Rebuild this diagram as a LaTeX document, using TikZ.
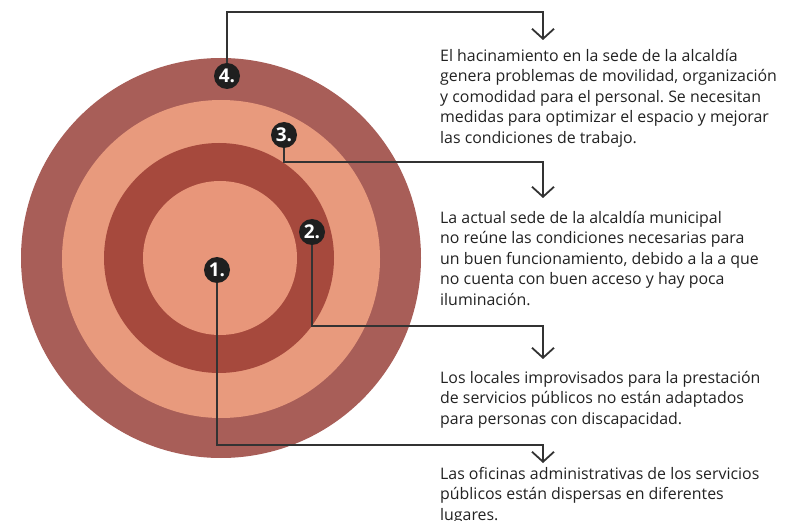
\documentclass[tikz,border=0pt]{standalone}
\usepackage{fontspec}
\setmainfont{Open Sans}
\frenchspacing
\usetikzlibrary{arrows.meta}

\definecolor{ringout}{RGB}{168,94,88}
\definecolor{ringlight}{RGB}{232,154,125}
\definecolor{ringdark}{RGB}{166,73,61}
\definecolor{ringcore}{RGB}{232,150,122}
\definecolor{linegray}{RGB}{51,51,51}
\definecolor{textgray}{RGB}{34,34,34}

\tikzset{
  conn/.style={draw=linegray, line width=1.8pt, -{Straight Barb[length=10pt,width=22pt,line width=1.8pt]}},
  badge/.style={circle, fill=black!88, text=white, minimum size=26pt, inner sep=0pt,
    font=\bfseries\fontsize{19}{19}\selectfont},
  note/.style={anchor=north west, align=left, inner sep=0pt, text=textgray,
    font=\fontsize{15.9}{20.5}\selectfont}
}

\begin{document}
\begin{tikzpicture}[x=1pt,y=-1pt]
   \useasboundingbox (0,0) rectangle (785,521);
   % rings
   \fill[ringout] (221,258) circle(200);
   \fill[ringlight] (221,259) circle(159);
   \fill[ringdark] (219,258) circle(115);
   \fill[ringcore] (220,258) circle(77);

   % texts
   \node[note] (t4) at (440,49) {El hacinamiento en la sede de la alcaldía\\
     genera problemas de movilidad, organización\\
     y comodidad para el personal. Se necesitan\\
     medidas para optimizar el espacio y mejorar\\
     las condiciones de trabajo.};
   \node[note] (t3) at (440,211) {La actual sede de la alcaldía municipal\\
     no reúne las condiciones necesarias para\\
     un buen funcionamiento, debido a la a que\\
     no cuenta con buen acceso y hay poca\\
     iluminación.};
   \node[note] (t2) at (440,371) {Los locales improvisados para la prestación\\
     de servicios públicos no están adaptados\\
     para personas con discapacidad.};
   \node[note] (t1) at (440,467) {Las oficinas administrativas de los servicios\\
     públicos están dispersas en diferentes\\
     lugares.};

   % badges
   \node[badge] (b4) at (227,76) {4.};
   \node[badge] (b3) at (284,135) {3.};
   \node[badge] (b2) at (312,232) {2.};
   \node[badge] (b1) at (217,270) {1.};

   % arrow ends and elbows
   \coordinate (a4) at (543,40);
   \coordinate (a3) at (543,198);
   \coordinate (a2) at (543,359);
   \coordinate (a1) at (543,463);
   \coordinate (e4) at (543,12);
   \coordinate (e3) at (543,162);
   \coordinate (e2) at (543,326);
   \coordinate (e1) at (543,445);

   \draw[conn] (b4) |- (e4) -- (a4);
   \draw[conn] (b3) |- (e3) -- (a3);
   \draw[conn] (b2) |- (e2) -- (a2);
   \draw[conn] (b1) |- (e1) -- (a1);
\end{tikzpicture}
\end{document}
